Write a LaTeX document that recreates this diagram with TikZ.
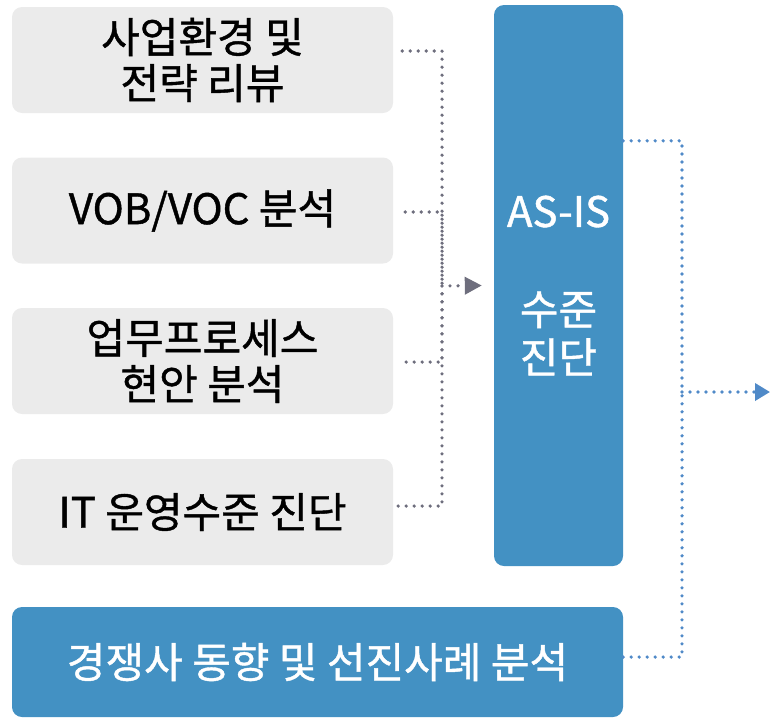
\documentclass[tikz,border=0pt]{standalone}
\usepackage{fontspec}
\setmainfont{Noto Sans CJK KR}[FakeBold=1]
\usetikzlibrary{arrows.meta}
\definecolor{boxgray}{RGB}{235,235,235}
\definecolor{boxblue}{RGB}{67,145,195}
\definecolor{dotgray}{RGB}{110,110,125}
\definecolor{dotblue}{RGB}{80,138,200}
\begin{document}
\begin{tikzpicture}[x=1pt,y=-1pt,
        font=\fontsize{42}{46}\selectfont,
        graybox/.style={fill=boxgray, rounded corners=10pt, minimum width=381pt, minimum height=106pt, inner sep=0pt, align=center},
        bluebox/.style={fill=boxblue, text=white, rounded corners=10pt, inner sep=0pt, align=center},
        graydots/.style={dotgray, line width=3.6pt, line cap=round, dash pattern=on 0pt off 8pt},
        bluedots/.style={dotblue, line width=3.6pt, line cap=round, dash pattern=on 0pt off 8pt}]
        \useasboundingbox (0,0) rectangle (770,718);
        \node[graybox] (env) at (202.5,60) {사업환경 및\\전략 리뷰};
        \node[graybox] (voc) at (202.5,210.5) {VOB/VOC 분석};
        \node[graybox] (proc) at (202.5,361) {업무프로세스\\현안 분석};
        \node[graybox] (itops) at (202.5,512) {IT 운영수준 진단};
        \node[bluebox, minimum width=129pt, minimum height=561pt] (asis) at (558.5,285.5) {AS-IS\\[52pt]수준\\[2pt]진단};
        \node[bluebox, minimum width=611pt, minimum height=110pt] (bench) at (317.5,662) {경쟁사 동향 및 선진사례 분석};
        \coordinate (merge) at (442,286);
        \coordinate (split) at (682,392);
        \coordinate (result) at (770,392);
        \draw[graydots] ([xshift=9pt,yshift=9pt]env.east) -| (merge);
        \draw[graydots] ([xshift=12pt,yshift=-1.5pt]voc.east) -| (merge);
        \draw[graydots] ([xshift=13pt,yshift=-1pt]proc.east) -| (merge);
        \draw[graydots] ([xshift=5pt,yshift=6pt]itops.east) -| (merge);
        \draw[graydots, -{Triangle[length=17pt,width=17pt]}] (merge) -- ([xshift=-12pt]asis.west);
        \draw[bluedots] ([yshift=-136pt]asis.north east) -| (split);
        \draw[bluedots] ([yshift=5pt]bench.east) -| (split);
        \draw[bluedots, -{Triangle[length=15pt,width=17pt]}] (split) -- (result);
\end{tikzpicture}
\end{document}
